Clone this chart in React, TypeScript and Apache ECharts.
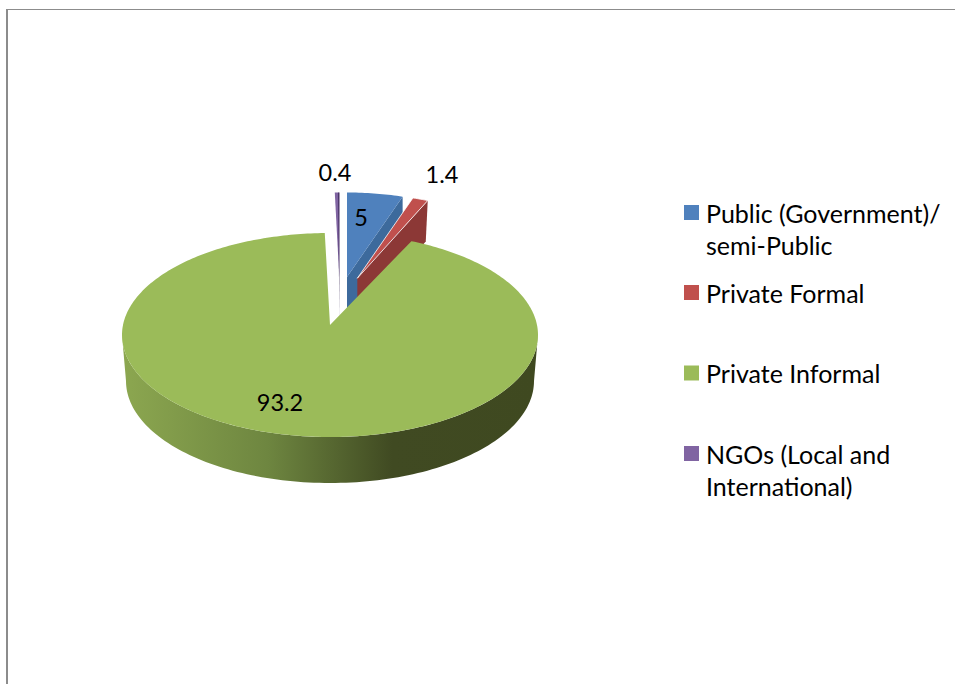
import React, { useEffect, useRef } from "react";
import * as echarts from "echarts";

const names = ["Public (Government)/ semi-Public", "Private Formal", "Private Informal", "NGOs (Local and International)"];
const wrapped = ["\nPublic (Government)/\nsemi-Public", "Private Formal", "Private Informal", "\nNGOs (Local and\nInternational)"];
const values = [5, 1.4, 93.2, 0.4];
const topColors = ["#4f81bd", "#c0504d", "#9bbb59", "#8064a2"];
const sideColors = ["#3d6a9c", "#8c3836", "#404a22", "#33204f"];
const legendTops = [164.5, 276.5, 357, 405.5];

const FONT = "Lato, Carlito, Calibri, sans-serif";
const TOTAL = values.reduce((a, b) => a + b, 0);
const angleOf = (v: number) => (v / TOTAL) * Math.PI * 2;

// Projection of each exploded slice: apex, ellipse radii, extrusion, label anchor.
const geometry = [
  { ax: 347, ay: 277, ox: 347, oy: 277, rx: 180, ry: 84.5, depth: 40, lx: 361, ly: 217 },
  { ax: 357.3, ay: 278.3, ox: 357.3, oy: 278.3, rx: 180, ry: 84.5, depth: 41, lx: 442, ly: 174 },
  { ax: 330, ay: 325, ox: 330, oy: 335, rx: 208, ry: 102, depth: 46, lx: 280, ly: 402 },
  { ax: 339.3, ay: 277, ox: 339.3, oy: 277, rx: 180, ry: 84.5, depth: 40, lx: 335, ly: 172 },
];

function renderSlice(idx: number) {
  return (_params: any, api: any) => {
    let start = 0;
    for (let i = 0; i < idx; i++) start += angleOf(values[i]);
    const end = start + angleOf(api.value(0));
    const g = geometry[idx];
    const pt = (t: number, dy = 0): number[] => [g.ox + g.rx * Math.sin(t), g.oy - g.ry * Math.cos(t) + dy];
    const steps = Math.max(6, Math.ceil((end - start) * 60));
    const arc: number[][] = [];
    for (let i = 0; i <= steps; i++) arc.push(pt(start + ((end - start) * i) / steps));
    const children: any[] = [];
    if (idx === 2) {
      // the rim of the big slice, its lower ellipse slightly narrower
      const rim: number[][] = [];
      for (let i = 0; i <= 120; i++) rim.push(pt(Math.PI / 2 + (Math.PI * i) / 120));
      for (let i = 120; i >= 0; i--) {
        const t = Math.PI / 2 + (Math.PI * i) / 120;
        rim.push([g.ox + (g.rx - 4) * Math.sin(t), g.oy + g.depth - g.ry * Math.cos(t)]);
      }
      children.push({
        type: "polygon",
        shape: { points: rim },
        style: {
          fill: new echarts.graphic.LinearGradient(0, 0, 1, 0, [
            { offset: 0, color: "#8ca750" },
            { offset: 0.35, color: "#6e8640" },
            { offset: 0.65, color: "#404a22" },
            { offset: 1, color: "#3f4920" },
          ]),
        },
      });
    } else if (idx !== 3) {
      const e = pt(end);
      children.push({
        type: "polygon",
        shape: { points: [[g.ax, g.ay], e, [e[0] - 2 * (idx === 1 ? 1 : 0), e[1] + g.depth], [g.ax, g.ay + g.depth]] },
        style: { fill: sideColors[idx] },
      });
    }
    children.push({
      type: "polygon",
      shape: { points: [[g.ax, g.ay], ...arc] },
      style: idx === 1 ? { fill: topColors[idx], stroke: "#ffffff", lineWidth: 0.8 } : { fill: topColors[idx] },
    });
    if (idx === 3) {
      const e = pt(end);
      children.push({
        type: "polygon",
        shape: { points: [e, [e[0] - 1, e[1]], [g.ax, g.ay + g.depth]] },
        style: { fill: sideColors[idx] },
      });
    }
    children.push({
      type: "text",
      z2: 50,
      style: {
        text: String(api.value(0)),
        x: g.lx,
        y: g.ly,
        align: "center",
        verticalAlign: "middle",
        fontFamily: FONT,
        fontSize: 23.5,
        fill: "#000000",
      },
    });
    return { type: "group", children };
  };
}

export default function App() {
  const ref = useRef<HTMLDivElement>(null);
  useEffect(() => {
    const chart = echarts.init(ref.current!, undefined, { renderer: "svg" });
    chart.setOption({
      animation: false,
      backgroundColor: "#ffffff",
      graphic: [
        { type: "line", shape: { x1: 7, y1: 9, x2: 7, y2: 684 }, style: { stroke: "#8c8c8c", lineWidth: 2 }, z: 100, silent: true },
        { type: "line", shape: { x1: 6, y1: 9.5, x2: 955, y2: 9.5 }, style: { stroke: "#8c8c8c", lineWidth: 1 }, z: 100, silent: true },
      ],
      legend: names.map((n, i) => ({
        data: [{ name: n, icon: "rect" }],
        orient: "vertical",
        left: 684,
        top: legendTops[i],
        padding: 0,
        itemWidth: 15,
        itemHeight: 15,
        selectedMode: false,
        formatter: () => wrapped[i],
        textStyle: { fontFamily: FONT, fontSize: 25, lineHeight: 32, color: "#000000", padding: [0, 0, 0, 2] },
      })),
      series: names.map((n, i) => ({
        type: "custom",
        name: n,
        coordinateSystem: "none",
        silent: true,
        z: i === 2 ? 3 : i === 1 ? 2 : 1,
        itemStyle: { color: topColors[i] },
        data: [[values[i]]],
        renderItem: renderSlice(i),
      })),
    });
    return () => chart.dispose();
  }, []);
  return <div ref={ref} style={{ position: "fixed", left: 0, top: 0, width: 955, height: 684 }} />;
}
